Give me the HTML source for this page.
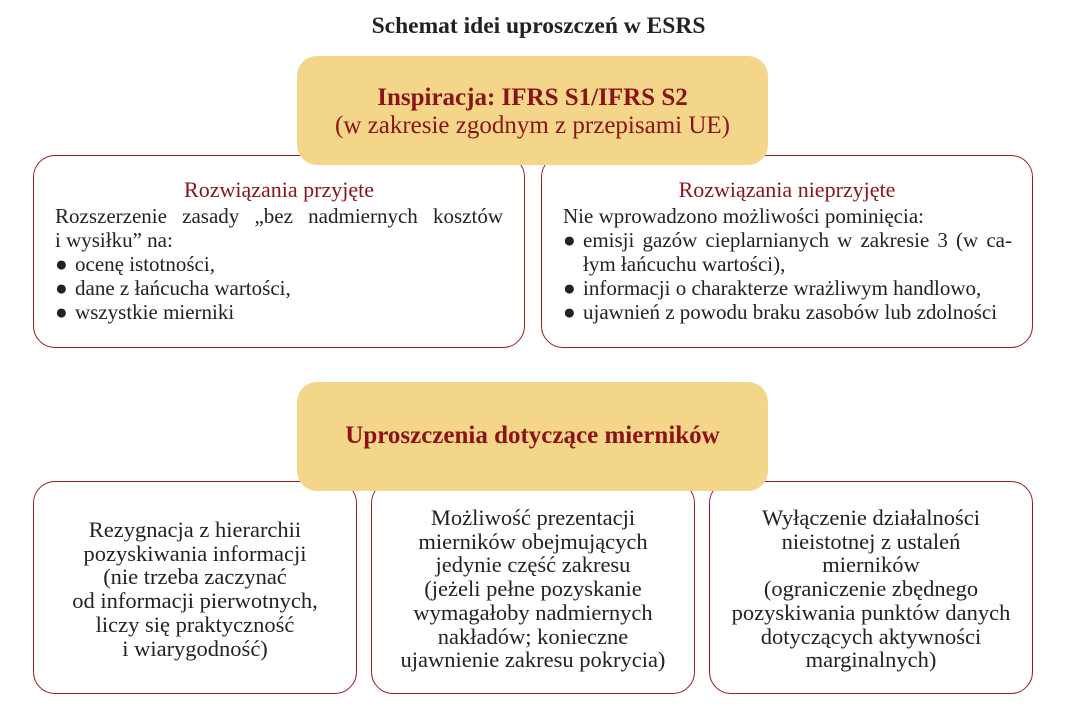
<!DOCTYPE html>
<html><head><meta charset="utf-8"><style>
body{margin:0;width:1077px;height:714px;background:#fff;position:relative;overflow:hidden;font-family:"Liberation Serif",serif;color:#222;}
.a{position:absolute;white-space:nowrap;}
.box{position:absolute;border:1.5px solid #9b1c22;border-radius:22px;background:#fff;box-sizing:border-box;}
.y{position:absolute;background:#f3d68a;border-radius:20px;}
.r{color:#8b1318;}
.t{font-size:21px;line-height:24px;}
.c{text-align:center;}
.b{font-size:22.5px;}
</style></head><body>
<div class="a" style="left:0;width:1077px;top:13px;text-align:center;font-size:23.5px;font-weight:bold;">Schemat idei uproszczeń w ESRS</div>

<div class="box" style="left:33px;top:155px;width:492px;height:193px;"></div>
<div class="box" style="left:541px;top:155px;width:492px;height:193px;"></div>
<div class="y" style="left:297px;top:56px;width:471px;height:109px;"></div>
<div class="a r c" style="left:297px;width:471px;top:84px;font-size:25px;font-weight:bold;">Inspiracja: IFRS S1/IFRS S2</div>
<div class="a r c" style="left:297px;width:471px;top:112px;font-size:25px;">(w zakresie zgodnym z przepisami UE)</div>

<div class="a t r c" style="left:33px;width:492px;top:178px;font-size:22px;">Rozwiązania przyjęte</div>
<div class="a t" style="left:55px;top:204px;width:448px;text-align:justify;text-align-last:justify;">Rozszerzenie zasady „bez nadmiernych kosztów</div>
<div class="a t" style="left:55px;top:228px;">i wysiłku” na:</div>
<div class="a t" style="left:55px;top:252px;">●</div><div class="a t" style="left:75px;top:252px;">ocenę istotności,</div>
<div class="a t" style="left:55px;top:276px;">●</div><div class="a t" style="left:75px;top:276px;">dane z łańcucha wartości,</div>
<div class="a t" style="left:55px;top:300px;">●</div><div class="a t" style="left:75px;top:300px;">wszystkie mierniki</div>

<div class="a t r c" style="left:541px;width:492px;top:178px;font-size:22px;">Rozwiązania nieprzyjęte</div>
<div class="a t" style="left:563px;top:204px;">Nie wprowadzono możliwości pominięcia:</div>
<div class="a t" style="left:563px;top:228px;">●</div>
<div class="a t" style="left:583px;top:228px;width:429px;text-align:justify;text-align-last:justify;">emisji gazów cieplarnianych w zakresie 3 (w ca-</div>
<div class="a t" style="left:583px;top:252px;">łym łańcuchu wartości),</div>
<div class="a t" style="left:563px;top:276px;">●</div><div class="a t" style="left:583px;top:276px;">informacji o charakterze wrażliwym handlowo,</div>
<div class="a t" style="left:563px;top:300px;">●</div><div class="a t" style="left:583px;top:300px;">ujawnień z powodu braku zasobów lub zdolności</div>

<div class="box" style="left:33px;top:481px;width:324px;height:213px;"></div>
<div class="box" style="left:371px;top:481px;width:324px;height:213px;"></div>
<div class="box" style="left:709px;top:481px;width:324px;height:213px;"></div>
<div class="y" style="left:297px;top:382px;width:471px;height:109px;"></div>
<div class="a r c" style="left:297px;width:471px;top:422px;font-size:25px;font-weight:bold;">Uproszczenia dotyczące mierników</div>

<div class="a t b c" style="left:33px;width:324px;top:518px;line-height:23.7px;">Rezygnacja z hierarchii<br>pozyskiwania informacji<br>(nie trzeba zaczynać<br>od informacji pierwotnych,<br>liczy się praktyczność<br>i wiarygodność)</div>
<div class="a t b c" style="left:371px;width:324px;top:506px;line-height:23.7px;">Możliwość prezentacji<br>mierników obejmujących<br>jedynie część zakresu<br>(jeżeli pełne pozyskanie<br>wymagałoby nadmiernych<br>nakładów; konieczne<br>ujawnienie zakresu pokrycia)</div>
<div class="a t b c" style="left:709px;width:324px;top:506px;line-height:23.7px;">Wyłączenie działalności<br>nieistotnej z ustaleń<br>mierników<br>(ograniczenie zbędnego<br>pozyskiwania punktów danych<br>dotyczących aktywności<br>marginalnych)</div>
</body></html>
